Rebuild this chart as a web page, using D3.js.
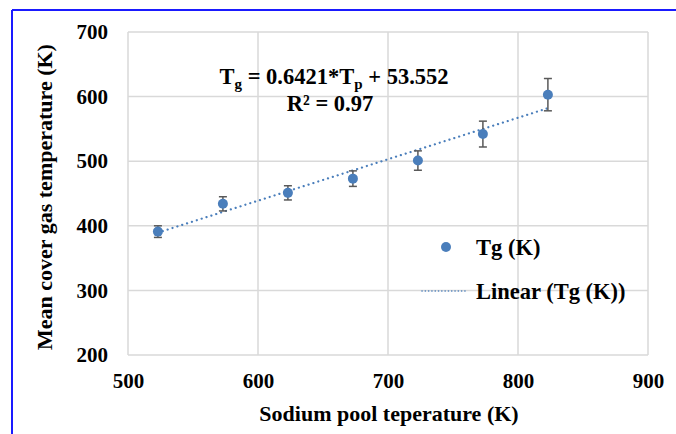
<!DOCTYPE html>
<html><head><meta charset="utf-8">
<script src="https://cdn.jsdelivr.net/npm/d3@7"></script>
<style>
html,body{margin:0;padding:0;background:#fff;}
svg{display:block;}
svg text{font-family:"Liberation Serif","Times New Roman","DejaVu Serif",serif !important;font-weight:bold;fill:#000;}
</style></head>
<body>
<script>
const poolTemp = [523, 573, 623, 673, 723, 773, 823];
const gasTemp = [391, 434, 451, 473, 501, 542, 603];
const errBar = [9, 11, 11, 12, 15, 20, 25];
const xTicks = [500, 600, 700, 800, 900];
const yTicks = [200, 300, 400, 500, 600, 700];
const slope = 0.6421, intercept = 53.552;

const W = 676, H = 434;
const svg = d3.select("body").append("svg").attr("width", W).attr("height", H);

svg.append("line").attr("x1", 12).attr("x2", W).attr("y1", 10).attr("y2", 10).attr("stroke", "#1a1aff").attr("stroke-width", 2);
svg.append("line").attr("x1", 12).attr("x2", 12).attr("y1", 10).attr("y2", H).attr("stroke", "#1a1aff").attr("stroke-width", 2);

const m = {l:128, r:648, t:32, b:355};
const x = d3.scaleLinear().domain([500, 900]).range([m.l, m.r]);
const y = d3.scaleLinear().domain([200, 700]).range([m.b, m.t]);

const grid = svg.append("g").attr("stroke", "#d9d9d9").attr("stroke-width", 1.5);
grid.selectAll("line.v").data(xTicks).join("line").attr("class","v")
  .attr("x1", d=>x(d)).attr("x2", d=>x(d)).attr("y1", m.t).attr("y2", m.b);
grid.selectAll("line.h").data(yTicks).join("line").attr("class","h")
  .attr("x1", m.l).attr("x2", m.r).attr("y1", d=>y(d)).attr("y2", d=>y(d));

const xAxis = svg.append("g").attr("transform", `translate(0,${m.b})`)
  .call(d3.axisBottom(x).tickValues(xTicks).tickSize(0).tickPadding(18).tickFormat(d3.format("d")));
xAxis.select(".domain").remove();
xAxis.selectAll("text").attr("font-size", 21);

const yAxis = svg.append("g").attr("transform", `translate(${m.l},0)`)
  .call(d3.axisLeft(y).tickValues(yTicks).tickSize(0).tickPadding(20).tickFormat(d3.format("d")));
yAxis.select(".domain").remove();
yAxis.selectAll("text").attr("font-size", 21);

const x0 = d3.min(poolTemp), x1 = d3.max(poolTemp);
svg.append("line")
  .attr("x1", x(x0)).attr("y1", y(slope*x0+intercept))
  .attr("x2", x(x1)).attr("y2", y(slope*x1+intercept))
  .attr("stroke", "#4a7ebb").attr("stroke-width", 2.2)
  .attr("stroke-dasharray", "0.1 5").attr("stroke-linecap", "round");

const data = poolTemp.map((p,i)=>({p, g:gasTemp[i], e:errBar[i]}));
const eb = svg.append("g").attr("stroke", "#595959").attr("stroke-width", 1.5);
eb.selectAll("line.s").data(data).join("line").attr("class","s")
  .attr("x1", d=>x(d.p)).attr("x2", d=>x(d.p)).attr("y1", d=>y(d.g-d.e)).attr("y2", d=>y(d.g+d.e));
eb.selectAll("line.t").data(data).join("line").attr("class","t")
  .attr("x1", d=>x(d.p)-4).attr("x2", d=>x(d.p)+4).attr("y1", d=>y(d.g+d.e)).attr("y2", d=>y(d.g+d.e));
eb.selectAll("line.b").data(data).join("line").attr("class","b")
  .attr("x1", d=>x(d.p)-4).attr("x2", d=>x(d.p)+4).attr("y1", d=>y(d.g-d.e)).attr("y2", d=>y(d.g-d.e));

svg.append("g").selectAll("circle").data(data).join("circle")
  .attr("cx", d=>x(d.p)).attr("cy", d=>y(d.g)).attr("r", 5).attr("fill", "#4a7ebb");

const eq = svg.append("text").attr("x", 334).attr("y", 84).attr("text-anchor", "middle").attr("font-size", 22.5);
eq.append("tspan").text("T");
eq.append("tspan").attr("font-size", 15).attr("dy", 5).text("g");
eq.append("tspan").attr("dy", -5).text(" = 0.6421*T");
eq.append("tspan").attr("font-size", 15).attr("dy", 5).text("p");
eq.append("tspan").attr("dy", -5).text(" + 53.552");
svg.append("text").attr("x", 330).attr("y", 111).attr("text-anchor", "middle").attr("font-size", 22.5).text("R² = 0.97");

svg.append("circle").attr("cx", 446).attr("cy", 247).attr("r", 5).attr("fill", "#4a7ebb");
svg.append("text").attr("x", 476).attr("y", 255).attr("font-size", 22.5).text("Tg (K)");
svg.append("line").attr("x1", 422).attr("x2", 467).attr("y1", 291).attr("y2", 291)
  .attr("stroke", "#4a7ebb").attr("stroke-width", 1.6).attr("stroke-dasharray", "0.1 3.2").attr("stroke-linecap", "round");
svg.append("text").attr("x", 476).attr("y", 299).attr("font-size", 22.5).text("Linear (Tg (K))");

svg.append("text").attr("x", 389).attr("y", 421).attr("text-anchor", "middle").attr("font-size", 22).text("Sodium pool teperature (K)");
svg.append("text").attr("transform", "translate(52,197) rotate(-90)").attr("text-anchor", "middle").attr("font-size", 22).text("Mean cover gas temperature (K)");
</script>
</body></html>
